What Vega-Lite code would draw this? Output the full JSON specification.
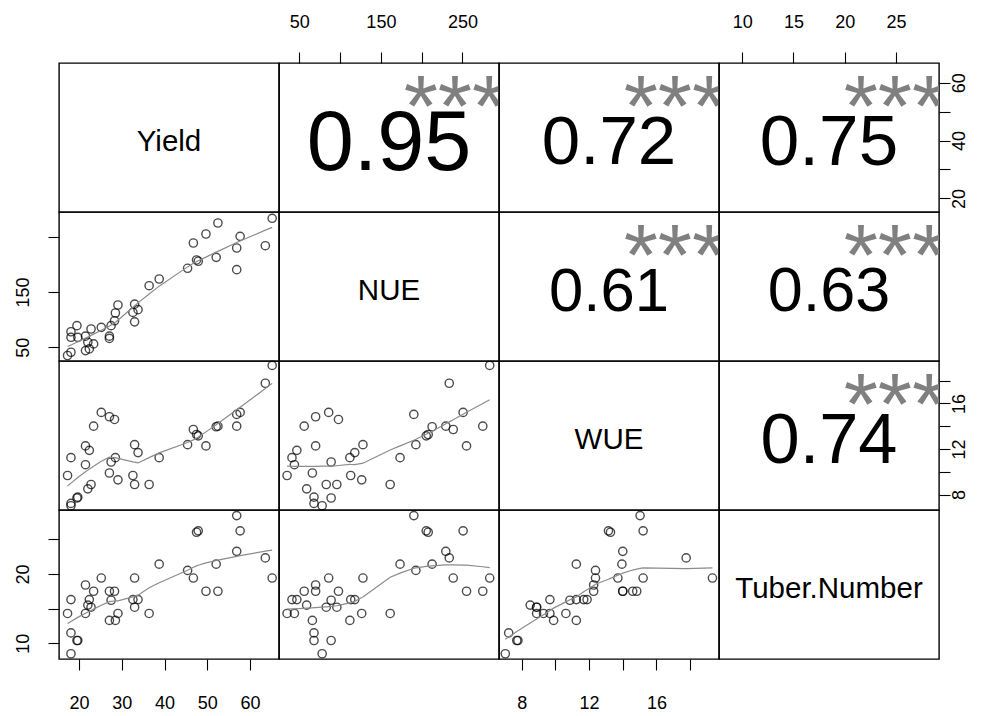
{
  "$schema": "https://vega.github.io/schema/vega-lite/v6.json",
  "background": "white",
  "padding": {"left": 13, "top": 12, "right": 18, "bottom": 6},
  "datasets": {
    "obs": [
      {"Yield": 65.2, "NUE": 283.4, "WUE": 19.33, "TuberNumber": 19.4},
      {"Yield": 63.6, "NUE": 233.8, "WUE": 17.77, "TuberNumber": 22.3},
      {"Yield": 57.7, "NUE": 250.8, "WUE": 15.21, "TuberNumber": 26.2},
      {"Yield": 56.9, "NUE": 190.4, "WUE": 15.03, "TuberNumber": 28.4},
      {"Yield": 56.9, "NUE": 229.6, "WUE": 14.0, "TuberNumber": 23.25},
      {"Yield": 52.5, "NUE": 274.9, "WUE": 14.0, "TuberNumber": 17.5},
      {"Yield": 52.1, "NUE": 212.8, "WUE": 13.95, "TuberNumber": 21.4},
      {"Yield": 49.7, "NUE": 255.0, "WUE": 12.27, "TuberNumber": 17.5},
      {"Yield": 47.9, "NUE": 205.6, "WUE": 13.15, "TuberNumber": 26.2},
      {"Yield": 47.5, "NUE": 208.0, "WUE": 13.27, "TuberNumber": 26.0},
      {"Yield": 46.75, "NUE": 238.7, "WUE": 13.71, "TuberNumber": 19.4},
      {"Yield": 45.4, "NUE": 192.9, "WUE": 12.38, "TuberNumber": 20.5},
      {"Yield": 38.75, "NUE": 173.5, "WUE": 11.24, "TuberNumber": 21.4},
      {"Yield": 36.4, "NUE": 161.4, "WUE": 8.88, "TuberNumber": 14.3},
      {"Yield": 33.8, "NUE": 118.0, "WUE": 11.68, "TuberNumber": 16.3},
      {"Yield": 33.0, "NUE": 128.0, "WUE": 12.38, "TuberNumber": 19.4},
      {"Yield": 33.0, "NUE": 96.0, "WUE": 8.88, "TuberNumber": 15.2},
      {"Yield": 32.6, "NUE": 113.0, "WUE": 9.67, "TuberNumber": 16.3},
      {"Yield": 29.1, "NUE": 126.5, "WUE": 9.29, "TuberNumber": 14.3},
      {"Yield": 28.5, "NUE": 112.0, "WUE": 11.24, "TuberNumber": 13.3},
      {"Yield": 28.3, "NUE": 98.0, "WUE": 14.59, "TuberNumber": 17.5},
      {"Yield": 27.5, "NUE": 89.0, "WUE": 10.86, "TuberNumber": 16.2},
      {"Yield": 27.1, "NUE": 70.0, "WUE": 14.83, "TuberNumber": 17.5},
      {"Yield": 27.1, "NUE": 66.0, "WUE": 9.89, "TuberNumber": 13.3},
      {"Yield": 25.2, "NUE": 86.0, "WUE": 15.21, "TuberNumber": 19.4},
      {"Yield": 23.4, "NUE": 56.0, "WUE": 14.0, "TuberNumber": 17.5},
      {"Yield": 22.8, "NUE": 83.0, "WUE": 8.88, "TuberNumber": 15.2},
      {"Yield": 22.4, "NUE": 47.0, "WUE": 11.88, "TuberNumber": 16.3},
      {"Yield": 22.05, "NUE": 59.0, "WUE": 8.5, "TuberNumber": 15.5},
      {"Yield": 21.5, "NUE": 70.0, "WUE": 12.27, "TuberNumber": 18.4},
      {"Yield": 21.5, "NUE": 44.0, "WUE": 10.62, "TuberNumber": 14.3},
      {"Yield": 19.7, "NUE": 68.0, "WUE": 7.77, "TuberNumber": 10.4},
      {"Yield": 19.5, "NUE": 89.0, "WUE": 7.7, "TuberNumber": 10.4},
      {"Yield": 18.1, "NUE": 68.0, "WUE": 7.22, "TuberNumber": 11.5},
      {"Yield": 18.1, "NUE": 78.0, "WUE": 7.02, "TuberNumber": 8.5},
      {"Yield": 18.1, "NUE": 41.0, "WUE": 11.24, "TuberNumber": 16.3},
      {"Yield": 17.3, "NUE": 35.0, "WUE": 9.67, "TuberNumber": 14.3}
    ]
  },
  "columns": 4,
  "spacing": 0,
  "bounds": "flush",
  "concat": [
    {
      "width": 220, "height": 149,
      "data": {"values": [{"name": "Yield"}]},
      "mark": {"type": "text", "fontSize": 29.5, "baseline": "alphabetic", "dy": 13},
      "encoding": {
        "text": {"field": "name"},
        "x": {"datum": 0.5, "type": "quantitative", "scale": {"domain": [0, 1]}, "axis": null},
        "y": {"datum": 0.5, "type": "quantitative", "scale": {"domain": [0, 1]}, "axis": null}
      }
    },
    {
      "width": 220, "height": 149,
      "data": {"values": [{"r": 0.95, "sig": "***"}]},
      "layer": [
        {
          "data": {"name": "obs"},
          "mark": {"type": "point", "opacity": 0},
          "encoding": {
            "x": {"field": "NUE", "type": "quantitative", "scale": {"domain": [25.1, 294.8], "nice": false, "zero": false},
                  "axis": {"orient": "top", "title": null, "values": [50, 100, 150, 200, 250], "labelExpr": "datum.value % 100 == 50 ? datum.label : ''", "labelPadding": 21}}
          }
        },
        {
          "mark": {"type": "text", "baseline": "alphabetic", "dy": 32.3},
          "encoding": {
            "text": {"field": "r", "type": "quantitative", "format": ".2f"},
            "size": {"field": "r", "type": "quantitative", "scale": {"domain": [-0.3, 1], "range": [0, 88], "zero": false}, "legend": null},
            "x": {"datum": 0.5, "type": "quantitative", "scale": {"domain": [0, 1]}, "axis": null},
            "y": {"datum": 0.5, "type": "quantitative", "scale": {"domain": [0, 1]}, "axis": null}
          }
        },
        {
          "mark": {"type": "text", "baseline": "alphabetic", "dy": 43, "fontSize": 88, "color": "#808080", "clip": true},
          "encoding": {
            "text": {"field": "sig"},
            "x": {"datum": 0.8, "type": "quantitative", "scale": {"domain": [0, 1]}, "axis": null},
            "y": {"datum": 0.8, "type": "quantitative", "scale": {"domain": [0, 1]}, "axis": null}
          }
        }
      ],
      "resolve": {"scale": {"x": "independent"}}
    },
    {
      "width": 220, "height": 149,
      "data": {"values": [{"r": 0.72, "sig": "***"}]},
      "layer": [
        {
          "mark": {"type": "text", "baseline": "alphabetic", "dy": 26.7},
          "encoding": {
            "text": {"field": "r", "type": "quantitative", "format": ".2f"},
            "size": {"field": "r", "type": "quantitative", "scale": {"domain": [-0.3, 1], "range": [0, 88], "zero": false}, "legend": null},
            "x": {"datum": 0.5, "type": "quantitative", "scale": {"domain": [0, 1]}, "axis": null},
            "y": {"datum": 0.5, "type": "quantitative", "scale": {"domain": [0, 1]}, "axis": null}
          }
        },
        {
          "mark": {"type": "text", "baseline": "alphabetic", "dy": 43, "fontSize": 88, "color": "#808080", "clip": true},
          "encoding": {
            "text": {"field": "sig"},
            "x": {"datum": 0.8, "type": "quantitative", "scale": {"domain": [0, 1]}, "axis": null},
            "y": {"datum": 0.8, "type": "quantitative", "scale": {"domain": [0, 1]}, "axis": null}
          }
        }
      ]
    },
    {
      "width": 220, "height": 149,
      "data": {"values": [{"r": 0.75, "sig": "***"}]},
      "layer": [
        {
          "data": {"name": "obs"},
          "mark": {"type": "point", "opacity": 0},
          "encoding": {
            "x": {"field": "TuberNumber", "type": "quantitative", "scale": {"domain": [7.74, 29.2], "nice": false, "zero": false},
                  "axis": {"orient": "top", "title": null, "values": [10, 15, 20, 25], "labelPadding": 21}},
            "y": {"field": "Yield", "type": "quantitative", "scale": {"domain": [15.3, 66.8], "nice": false, "zero": false},
                  "axis": {"orient": "right", "title": null, "values": [20, 30, 40, 50, 60], "labelExpr": "datum.value % 20 == 0 ? datum.label : ''", "labelAngle": 270, "labelAlign": "center", "labelBaseline": "top", "labelPadding": 0.5}}
          }
        },
        {
          "mark": {"type": "text", "baseline": "alphabetic", "dy": 27.4},
          "encoding": {
            "text": {"field": "r", "type": "quantitative", "format": ".2f"},
            "size": {"field": "r", "type": "quantitative", "scale": {"domain": [-0.3, 1], "range": [0, 88], "zero": false}, "legend": null},
            "x": {"datum": 0.5, "type": "quantitative", "scale": {"domain": [0, 1]}, "axis": null},
            "y": {"datum": 0.5, "type": "quantitative", "scale": {"domain": [0, 1]}, "axis": null}
          }
        },
        {
          "mark": {"type": "text", "baseline": "alphabetic", "dy": 43, "fontSize": 88, "color": "#808080", "clip": true},
          "encoding": {
            "text": {"field": "sig"},
            "x": {"datum": 0.8, "type": "quantitative", "scale": {"domain": [0, 1]}, "axis": null},
            "y": {"datum": 0.8, "type": "quantitative", "scale": {"domain": [0, 1]}, "axis": null}
          }
        }
      ],
      "resolve": {"scale": {"x": "independent", "y": "independent"}}
    },
    {
      "width": 220, "height": 149,
      "data": {"name": "obs"},
      "layer": [
        {
          "mark": {"type": "point", "shape": "circle", "filled": false, "color": "#000", "size": 68, "strokeWidth": 1.4},
          "encoding": {
            "x": {"field": "Yield", "type": "quantitative", "scale": {"domain": [15.3, 66.8], "nice": false, "zero": false}, "axis": null},
            "y": {"field": "NUE", "type": "quantitative", "scale": {"domain": [25.1, 294.8], "nice": false, "zero": false},
                  "axis": {"orient": "left", "title": null, "values": [50, 100, 150, 200, 250], "labelExpr": "datum.value == 50 || datum.value == 150 ? datum.label : ''", "labelAngle": 270, "labelAlign": "center", "labelBaseline": "bottom", "labelPadding": 16}}
          }
        },
        {
          "transform": [{"loess": "NUE", "on": "Yield", "bandwidth": 0.67}],
          "mark": {"type": "line", "color": "#8c8c8c", "strokeWidth": 1.2},
          "encoding": {
            "x": {"field": "Yield", "type": "quantitative"},
            "y": {"field": "NUE", "type": "quantitative"}
          }
        }
      ]
    },
    {
      "width": 220, "height": 149,
      "data": {"values": [{"name": "NUE"}]},
      "mark": {"type": "text", "fontSize": 29.5, "baseline": "alphabetic", "dy": 13},
      "encoding": {
        "text": {"field": "name"},
        "x": {"datum": 0.5, "type": "quantitative", "scale": {"domain": [0, 1]}, "axis": null},
        "y": {"datum": 0.5, "type": "quantitative", "scale": {"domain": [0, 1]}, "axis": null}
      }
    },
    {
      "width": 220, "height": 149,
      "data": {"values": [{"r": 0.61, "sig": "***"}]},
      "layer": [
        {
          "mark": {"type": "text", "baseline": "alphabetic", "dy": 24.0},
          "encoding": {
            "text": {"field": "r", "type": "quantitative", "format": ".2f"},
            "size": {"field": "r", "type": "quantitative", "scale": {"domain": [-0.3, 1], "range": [0, 88], "zero": false}, "legend": null},
            "x": {"datum": 0.5, "type": "quantitative", "scale": {"domain": [0, 1]}, "axis": null},
            "y": {"datum": 0.5, "type": "quantitative", "scale": {"domain": [0, 1]}, "axis": null}
          }
        },
        {
          "mark": {"type": "text", "baseline": "alphabetic", "dy": 43, "fontSize": 88, "color": "#808080", "clip": true},
          "encoding": {
            "text": {"field": "sig"},
            "x": {"datum": 0.8, "type": "quantitative", "scale": {"domain": [0, 1]}, "axis": null},
            "y": {"datum": 0.8, "type": "quantitative", "scale": {"domain": [0, 1]}, "axis": null}
          }
        }
      ]
    },
    {
      "width": 220, "height": 149,
      "data": {"values": [{"r": 0.63, "sig": "***"}]},
      "layer": [
        {
          "mark": {"type": "text", "baseline": "alphabetic", "dy": 24.5},
          "encoding": {
            "text": {"field": "r", "type": "quantitative", "format": ".2f"},
            "size": {"field": "r", "type": "quantitative", "scale": {"domain": [-0.3, 1], "range": [0, 88], "zero": false}, "legend": null},
            "x": {"datum": 0.5, "type": "quantitative", "scale": {"domain": [0, 1]}, "axis": null},
            "y": {"datum": 0.5, "type": "quantitative", "scale": {"domain": [0, 1]}, "axis": null}
          }
        },
        {
          "mark": {"type": "text", "baseline": "alphabetic", "dy": 43, "fontSize": 88, "color": "#808080", "clip": true},
          "encoding": {
            "text": {"field": "sig"},
            "x": {"datum": 0.8, "type": "quantitative", "scale": {"domain": [0, 1]}, "axis": null},
            "y": {"datum": 0.8, "type": "quantitative", "scale": {"domain": [0, 1]}, "axis": null}
          }
        }
      ]
    },
    {
      "width": 220, "height": 149,
      "data": {"name": "obs"},
      "layer": [
        {
          "mark": {"type": "point", "shape": "circle", "filled": false, "color": "#000", "size": 68, "strokeWidth": 1.4},
          "encoding": {
            "x": {"field": "Yield", "type": "quantitative", "scale": {"domain": [15.3, 66.8], "nice": false, "zero": false}, "axis": null},
            "y": {"field": "WUE", "type": "quantitative", "scale": {"domain": [6.645, 19.72], "nice": false, "zero": false}, "axis": null}
          }
        },
        {
          "transform": [{"loess": "WUE", "on": "Yield", "bandwidth": 0.67}],
          "mark": {"type": "line", "color": "#8c8c8c", "strokeWidth": 1.2},
          "encoding": {
            "x": {"field": "Yield", "type": "quantitative"},
            "y": {"field": "WUE", "type": "quantitative"}
          }
        }
      ]
    },
    {
      "width": 220, "height": 149,
      "data": {"name": "obs"},
      "layer": [
        {
          "mark": {"type": "point", "shape": "circle", "filled": false, "color": "#000", "size": 68, "strokeWidth": 1.4},
          "encoding": {
            "x": {"field": "NUE", "type": "quantitative", "scale": {"domain": [25.1, 294.8], "nice": false, "zero": false}, "axis": null},
            "y": {"field": "WUE", "type": "quantitative", "scale": {"domain": [6.645, 19.72], "nice": false, "zero": false}, "axis": null}
          }
        },
        {
          "transform": [{"loess": "WUE", "on": "NUE", "bandwidth": 0.67}],
          "mark": {"type": "line", "color": "#8c8c8c", "strokeWidth": 1.2},
          "encoding": {
            "x": {"field": "NUE", "type": "quantitative"},
            "y": {"field": "WUE", "type": "quantitative"}
          }
        }
      ]
    },
    {
      "width": 220, "height": 149,
      "data": {"values": [{"name": "WUE"}]},
      "mark": {"type": "text", "fontSize": 29.5, "baseline": "alphabetic", "dy": 13},
      "encoding": {
        "text": {"field": "name"},
        "x": {"datum": 0.5, "type": "quantitative", "scale": {"domain": [0, 1]}, "axis": null},
        "y": {"datum": 0.5, "type": "quantitative", "scale": {"domain": [0, 1]}, "axis": null}
      }
    },
    {
      "width": 220, "height": 149,
      "data": {"values": [{"r": 0.74, "sig": "***"}]},
      "layer": [
        {
          "data": {"name": "obs"},
          "mark": {"type": "point", "opacity": 0},
          "encoding": {
            "y": {"field": "WUE", "type": "quantitative", "scale": {"domain": [6.645, 19.72], "nice": false, "zero": false},
                  "axis": {"orient": "right", "title": null, "values": [8, 10, 12, 14, 16, 18], "labelExpr": "datum.value % 4 == 0 ? datum.label : ''", "labelAngle": 270, "labelAlign": "center", "labelBaseline": "top", "labelPadding": 0.5}}
          }
        },
        {
          "mark": {"type": "text", "baseline": "alphabetic", "dy": 27.2},
          "encoding": {
            "text": {"field": "r", "type": "quantitative", "format": ".2f"},
            "size": {"field": "r", "type": "quantitative", "scale": {"domain": [-0.3, 1], "range": [0, 88], "zero": false}, "legend": null},
            "x": {"datum": 0.5, "type": "quantitative", "scale": {"domain": [0, 1]}, "axis": null},
            "y": {"datum": 0.5, "type": "quantitative", "scale": {"domain": [0, 1]}, "axis": null}
          }
        },
        {
          "mark": {"type": "text", "baseline": "alphabetic", "dy": 43, "fontSize": 88, "color": "#808080", "clip": true},
          "encoding": {
            "text": {"field": "sig"},
            "x": {"datum": 0.8, "type": "quantitative", "scale": {"domain": [0, 1]}, "axis": null},
            "y": {"datum": 0.8, "type": "quantitative", "scale": {"domain": [0, 1]}, "axis": null}
          }
        }
      ],
      "resolve": {"scale": {"y": "independent"}}
    },
    {
      "width": 220, "height": 149,
      "data": {"name": "obs"},
      "layer": [
        {
          "mark": {"type": "point", "shape": "circle", "filled": false, "color": "#000", "size": 68, "strokeWidth": 1.4},
          "encoding": {
            "x": {"field": "Yield", "type": "quantitative", "scale": {"domain": [15.3, 66.8], "nice": false, "zero": false},
                  "axis": {"orient": "bottom", "title": null, "values": [20, 30, 40, 50, 60], "labelPadding": 24}},
            "y": {"field": "TuberNumber", "type": "quantitative", "scale": {"domain": [7.74, 29.2], "nice": false, "zero": false},
                  "axis": {"orient": "left", "title": null, "values": [10, 15, 20, 25], "labelExpr": "datum.value % 10 == 0 ? datum.label : ''", "labelAngle": 270, "labelAlign": "center", "labelBaseline": "bottom", "labelPadding": 16}}
          }
        },
        {
          "transform": [{"loess": "TuberNumber", "on": "Yield", "bandwidth": 0.67}],
          "mark": {"type": "line", "color": "#8c8c8c", "strokeWidth": 1.2},
          "encoding": {
            "x": {"field": "Yield", "type": "quantitative"},
            "y": {"field": "TuberNumber", "type": "quantitative"}
          }
        }
      ]
    },
    {
      "width": 220, "height": 149,
      "data": {"name": "obs"},
      "layer": [
        {
          "mark": {"type": "point", "shape": "circle", "filled": false, "color": "#000", "size": 68, "strokeWidth": 1.4},
          "encoding": {
            "x": {"field": "NUE", "type": "quantitative", "scale": {"domain": [25.1, 294.8], "nice": false, "zero": false}, "axis": null},
            "y": {"field": "TuberNumber", "type": "quantitative", "scale": {"domain": [7.74, 29.2], "nice": false, "zero": false}, "axis": null}
          }
        },
        {
          "transform": [{"loess": "TuberNumber", "on": "NUE", "bandwidth": 0.67}],
          "mark": {"type": "line", "color": "#8c8c8c", "strokeWidth": 1.2},
          "encoding": {
            "x": {"field": "NUE", "type": "quantitative"},
            "y": {"field": "TuberNumber", "type": "quantitative"}
          }
        }
      ]
    },
    {
      "width": 220, "height": 149,
      "data": {"name": "obs"},
      "layer": [
        {
          "mark": {"type": "point", "shape": "circle", "filled": false, "color": "#000", "size": 68, "strokeWidth": 1.4},
          "encoding": {
            "x": {"field": "WUE", "type": "quantitative", "scale": {"domain": [6.645, 19.72], "nice": false, "zero": false},
                  "axis": {"orient": "bottom", "title": null, "values": [8, 10, 12, 14, 16, 18], "labelExpr": "datum.value % 4 == 0 ? datum.label : ''", "labelPadding": 24}},
            "y": {"field": "TuberNumber", "type": "quantitative", "scale": {"domain": [7.74, 29.2], "nice": false, "zero": false}, "axis": null}
          }
        },
        {
          "transform": [{"loess": "TuberNumber", "on": "WUE", "bandwidth": 0.67}],
          "mark": {"type": "line", "color": "#8c8c8c", "strokeWidth": 1.2},
          "encoding": {
            "x": {"field": "WUE", "type": "quantitative"},
            "y": {"field": "TuberNumber", "type": "quantitative"}
          }
        }
      ]
    },
    {
      "width": 220, "height": 149,
      "data": {"values": [{"name": "Tuber.Number"}]},
      "mark": {"type": "text", "fontSize": 29.5, "baseline": "alphabetic", "dy": 13},
      "encoding": {
        "text": {"field": "name"},
        "x": {"datum": 0.5, "type": "quantitative", "scale": {"domain": [0, 1]}, "axis": null},
        "y": {"datum": 0.5, "type": "quantitative", "scale": {"domain": [0, 1]}, "axis": null}
      }
    }
  ],
  "config": {
    "view": {"stroke": "#000", "strokeWidth": 1.4},
    "axis": {
      "labelFont": "Liberation Sans, Arial",
      "labelFontSize": 18,
      "labelColor": "#000",
      "tickColor": "#000",
      "tickSize": 11,
      "tickWidth": 1.1,
      "domain": false,
      "grid": false,
      "labelFlush": false,
      "labelOverlap": false
    },
    "text": {"font": "Liberation Sans, Arial", "color": "#000"}
  }
}
